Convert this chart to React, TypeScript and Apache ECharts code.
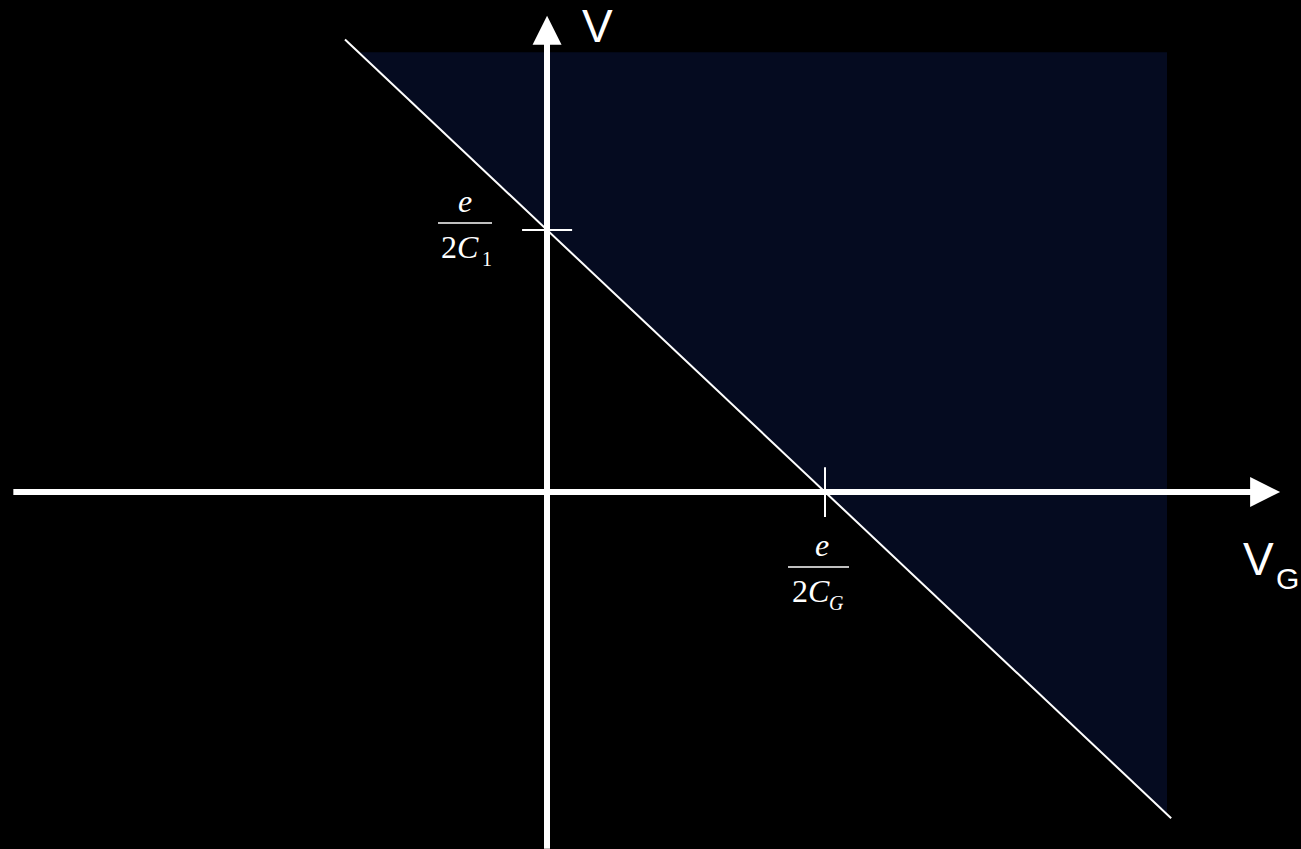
import React, { useEffect, useRef } from "react";
import * as echarts from "echarts";

// Units: VG in e/(2C_G), V in e/(2C_1)
const diagonalVG = [-0.727, 2.245];
const diagonalV = [1.727, -1.245];
const regionVG = [-0.679, 2.23, 2.23];
const regionV = [1.679, 1.679, -1.23];
const xAxisSpan = [-1.92, 2.583];
const yAxisSpan = [-1.362, 1.763];
const tickOnVG = [1];
const tickOnV = [1];

const W = 1301;
const H = 849;

export default function App() {
  const ref = useRef<HTMLDivElement>(null);
  useEffect(() => {
    document.body.style.margin = "0";
    document.body.style.background = "#000";
    const chart = echarts.init(ref.current!, undefined, { renderer: "svg" });
    const serif = "'Liberation Serif', 'Times New Roman', serif";
    const sans = "'Liberation Sans', Arial, sans-serif";
    const regionPts = regionVG.map((x, i) => [x, regionV[i]]);
    const option: any = {
      animation: false,
      backgroundColor: "#000",
      grid: { left: 0, right: 0, top: 0, bottom: 0 },
      xAxis: { type: "value", min: -1.968, max: 2.712, show: false },
      yAxis: { type: "value", min: -1.3626, max: 1.878, show: false },
      series: [
        {
          type: "line",
          z: 2,
          data: [],
          markLine: {
            silent: true,
            animation: false,
            label: { show: false },
            symbol: ["none", "triangle"],
            symbolSize: [30, 30],
            lineStyle: { color: "#fff", width: 6, type: "solid" },
            data: [
              [
                { coord: [xAxisSpan[0], 0], symbol: "none" },
                { coord: [xAxisSpan[1], 0], symbol: "triangle", symbolSize: [30, 30] },
              ],
              [
                { coord: [0, yAxisSpan[0]], symbol: "none" },
                { coord: [0, yAxisSpan[1]], symbol: "triangle", symbolSize: [29, 29] },
              ],
            ],
          },
        },
        {
          type: "custom",
          z: 3,
          silent: true,
          data: [[0, 0]],
          renderItem: (_p: any, api: any) => ({
            type: "polygon",
            shape: { points: regionPts.map((p) => api.coord(p)) },
            style: { fill: "rgba(30,70,200,0.16)" },
          }),
        },
        {
          type: "line",
          z: 4,
          symbol: "none",
          silent: true,
          lineStyle: { color: "#fff", width: 2 },
          data: diagonalVG.map((x, i) => [x, diagonalV[i]]),
          markLine: {
            silent: true,
            animation: false,
            label: { show: false },
            symbol: ["none", "none"],
            lineStyle: { color: "#fff", width: 2, type: "solid" },
            data: [
              ...tickOnV.map((v) => [{ coord: [-0.09, v] }, { coord: [0.09, v] }]),
              ...tickOnVG.map((g) => [{ coord: [g, -0.095] }, { coord: [g, 0.095] }]),
            ],
          },
        },
      ],
      graphic: [
        // e / 2C1
        { type: "text", x: 465, y: 201, style: { text: "e", font: `italic 32px ${serif}`, fill: "#fff", align: "center", verticalAlign: "middle" } },
        { type: "line", shape: { x1: 438, y1: 223, x2: 492, y2: 223 }, style: { stroke: "#fff", lineWidth: 1.5 } },
        {
          type: "text", x: 441, y: 247,
          style: {
            text: "{a|2}{b|C}", fill: "#fff", align: "left", verticalAlign: "middle",
            rich: { a: { font: `32px ${serif}`, fill: "#fff" }, b: { font: `italic 32px ${serif}`, fill: "#fff" } },
          },
        },
        { type: "text", x: 482, y: 259, style: { text: "1", font: `20px ${serif}`, fill: "#fff", align: "left", verticalAlign: "middle" } },
        // e / 2CG
        { type: "text", x: 822, y: 545, style: { text: "e", font: `italic 32px ${serif}`, fill: "#fff", align: "center", verticalAlign: "middle" } },
        { type: "line", shape: { x1: 788, y1: 567, x2: 849, y2: 567 }, style: { stroke: "#fff", lineWidth: 1.5 } },
        {
          type: "text", x: 792, y: 591,
          style: {
            text: "{a|2}{b|C}", fill: "#fff", align: "left", verticalAlign: "middle",
            rich: { a: { font: `32px ${serif}`, fill: "#fff" }, b: { font: `italic 32px ${serif}`, fill: "#fff" } },
          },
        },
        { type: "text", x: 829, y: 603, style: { text: "G", font: `italic 20px ${serif}`, fill: "#fff", align: "left", verticalAlign: "middle" } },
        // axis names
        { type: "text", x: 582, y: 26, style: { text: "V", font: `46px ${sans}`, fill: "#fff", align: "left", verticalAlign: "middle" } },
        { type: "text", x: 1243, y: 559, style: { text: "V", font: `46px ${sans}`, fill: "#fff", align: "left", verticalAlign: "middle" } },
        { type: "text", x: 1276, y: 578, style: { text: "G", font: `30px ${sans}`, fill: "#fff", align: "left", verticalAlign: "middle" } },
      ],
    };
    chart.setOption(option);
    return () => chart.dispose();
  }, []);
  return (
    <div
      ref={ref}
      style={{ position: "fixed", left: 0, top: 0, width: W, height: H, background: "#000" }}
    />
  );
}
